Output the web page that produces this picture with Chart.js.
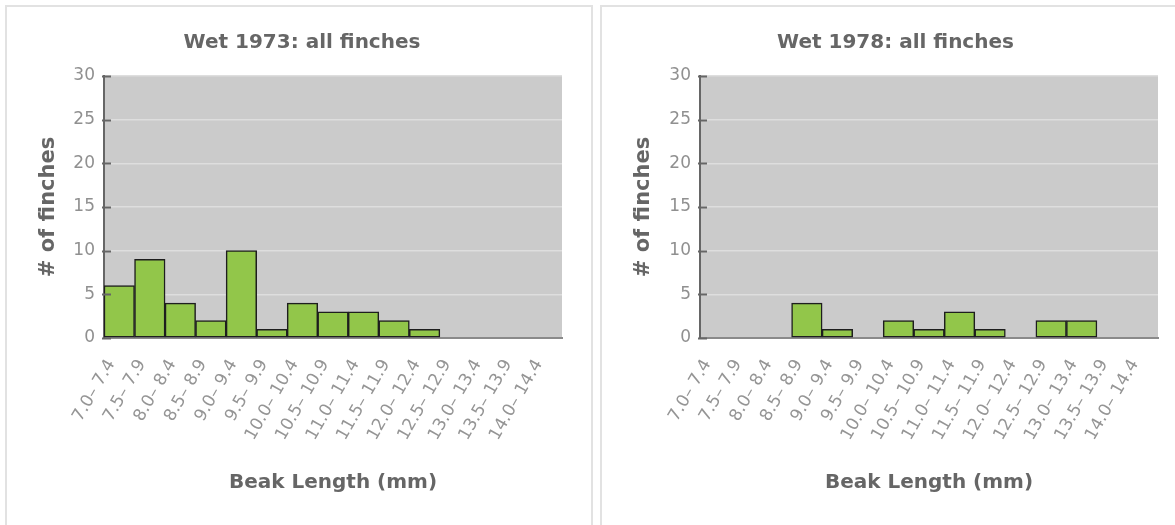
<!DOCTYPE html>
<html>
<head>
<meta charset="utf-8">
<script src="https://cdn.jsdelivr.net/npm/chart.js@4"></script>
<style>
    body { margin: 0; background: #fff; width: 1175px; height: 525px; overflow: hidden; position: relative; }
    .panel { position: absolute; top: 5px; height: 540px; border: 2px solid #e2e2e2; }
    #panelLeft { left: 5px; width: 584px; }
    #panelRight { left: 600px; width: 590px; }
    canvas { display: block; }
</style>
</head>
<body>
<div class="panel" id="panelLeft"><canvas id="chart1973" width="584" height="518"></canvas></div>
<div class="panel" id="panelRight"><canvas id="chart1978" width="573" height="518"></canvas></div>
<script>
// Beak length bins (mm)
const beakBins = ['7.0\u2013 7.4', '7.5\u2013 7.9', '8.0\u2013 8.4', '8.5\u2013 8.9', '9.0\u2013 9.4',
    '9.5\u2013 9.9', '10.0\u2013 10.4', '10.5\u2013 10.9', '11.0\u2013 11.4', '11.5\u2013 11.9',
    '12.0\u2013 12.4', '12.5\u2013 12.9', '13.0\u2013 13.4', '13.5\u2013 13.9', '14.0\u2013 14.4'];

// Number of finches per bin
const finches1973 = [6, 9, 4, 2, 10, 1, 4, 3, 3, 2, 1, 0, 0, 0, 0];
const finches1978 = [0, 0, 0, 4, 1, 0, 2, 1, 3, 1, 0, 2, 2, 0, 0];

const yTicks = [0, 5, 10, 15, 20, 25, 30];

const FONT = 'DejaVu Sans';

// gray plot background + short inward tick marks on the y axis
const plotDecor = {
    id: 'plotDecor',
    beforeDraw(chart) {
        const { ctx, chartArea } = chart;
        ctx.save();
        ctx.fillStyle = '#cbcbcb';
        ctx.fillRect(chartArea.left, chartArea.top, chartArea.right - chartArea.left, chartArea.bottom - chartArea.top);
        ctx.restore();
    },
    afterDraw(chart) {
        const { ctx, chartArea } = chart;
        const y = chart.scales.y;
        ctx.save();
        ctx.strokeStyle = '#666';
        ctx.lineWidth = 2;
        yTicks.forEach(v => {
            const py = Math.round(y.getPixelForValue(v)) + 0.5;
            ctx.beginPath();
            ctx.moveTo(chartArea.left - 2, py);
            ctx.lineTo(chartArea.left + 7, py);
            ctx.stroke();
        });
        ctx.restore();
    }
};

function makeChart(canvasId, title, counts, leftPad, yWidth, yTitlePad, rightPad) {
    const canvas = document.getElementById(canvasId);
    return new Chart(canvas, {
        type: 'bar',
        data: {
            labels: beakBins,
            datasets: [{
                data: counts,
                backgroundColor: '#92c64a',
                borderColor: '#1e1e1e',
                borderWidth: 1.5,
                borderSkipped: false,
                barPercentage: 1,
                categoryPercentage: 1
            }]
        },
        options: {
            responsive: false,
            animation: false,
            devicePixelRatio: 1,
            layout: { padding: { left: leftPad, right: 0, top: 0, bottom: 0 } },
            plugins: {
                legend: { display: false },
                tooltip: { enabled: false },
                title: {
                    display: true,
                    text: title,
                    color: '#666',
                    font: { family: FONT, size: 20, weight: 'bold' },
                    padding: { top: 24, bottom: 21 }
                }
            },
            scales: {
                x: {
                    grid: { display: false },
                    border: { color: '#8a8a8a', width: 2 },
                    ticks: {
                        color: '#959595',
                        font: { family: FONT, size: 17 },
                        minRotation: 60,
                        maxRotation: 60,
                        padding: 10,
                        labelOffset: -8,
                        autoSkip: false
                    },
                    title: {
                        display: true,
                        text: 'Beak Length (mm)',
                        color: '#666',
                        font: { family: FONT, size: 20, weight: 'bold' },
                        padding: { top: 0, bottom: 30 }
                    },
                    afterFit(scale) { scale.height = 187; }
                },
                y: {
                    min: 0,
                    max: 30,
                    grid: { color: '#dedede', lineWidth: 1.5, drawTicks: false },
                    border: { color: '#666', width: 2 },
                    ticks: {
                        stepSize: 5,
                        color: '#909090',
                        font: { family: FONT, size: 17 },
                        padding: 9
                    },
                    title: {
                        display: true,
                        text: '# of finches',
                        color: '#666',
                        font: { family: FONT, size: 21, weight: 'bold' },
                        padding: { top: yTitlePad, bottom: 0 }
                    },
                    afterFit(scale) { scale.width = yWidth; }
                },
                // empty right-hand spacer so the title stays centred on the panel
                spacer: {
                    type: 'linear',
                    position: 'right',
                    grid: { display: false },
                    border: { display: false },
                    ticks: { display: false },
                    afterFit(scale) { scale.width = rightPad; }
                }
            }
        },
        plugins: [plotDecor]
    });
}

makeChart('chart1973', 'Wet 1973: all finches', finches1973, 6, 91, 23, 29);
makeChart('chart1978', 'Wet 1978: all finches', finches1978, 14, 84, 15, 17);
</script>
</body>
</html>
